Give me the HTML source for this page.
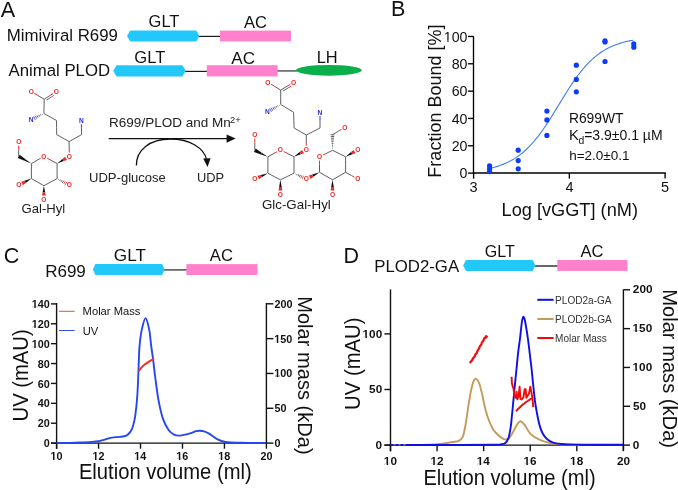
<!DOCTYPE html>
<html><head><meta charset="utf-8"><style>
html,body{margin:0;padding:0;background:#fff;width:678px;height:490px;overflow:hidden}
svg{display:block;will-change:transform}
text{font-family:"Liberation Sans",sans-serif}
</style></head><body>
<svg width="678" height="490" viewBox="0 0 678 490" font-family="Liberation Sans, sans-serif">
<rect width="678" height="490" fill="#fff"/>
<text x="0.64" y="16.50" font-size="21.60" fill="#111" >A</text>
<text x="6.65" y="40.90" font-size="16.84" fill="#111" >Mimiviral R699</text>
<text x="8.60" y="75.80" font-size="16.76" fill="#111" >Animal PLOD</text>
<text transform="translate(148.58,27.00) scale(1,0.95)" x="0" y="0" font-size="16.50" fill="#111" >GLT</text>
<text x="244.00" y="28.30" font-size="16.52" fill="#111" >AC</text>
<line x1="199.00" y1="36.40" x2="220.50" y2="36.40" stroke="#1a1a1a" stroke-width="1.2" />
<polygon points="127.00,36.00 130.24,30.60 196.26,30.60 199.50,36.00 196.26,41.40 130.24,41.40" fill="#22C8FA"/>
<rect x="220.00" y="30.60" width="71.00" height="10.80" fill="#FF80CC"/>
<text transform="translate(134.37,63.40) scale(1,0.95)" x="0" y="0" font-size="16.56" fill="#111" >GLT</text>
<text x="231.30" y="63.60" font-size="17.11" fill="#111" >AC</text>
<text x="316.69" y="62.50" font-size="16.41" fill="#111" >LH</text>
<line x1="185.00" y1="71.40" x2="207.00" y2="71.40" stroke="#1a1a1a" stroke-width="1.2" />
<line x1="277.00" y1="70.90" x2="297.00" y2="70.90" stroke="#6a6a6a" stroke-width="1.7" />
<polygon points="113.20,70.80 116.56,65.20 182.44,65.20 185.80,70.80 182.44,76.40 116.56,76.40" fill="#22C8FA"/>
<rect x="206.80" y="65.20" width="70.80" height="11.20" fill="#FF80CC"/>
<ellipse cx="328.9" cy="70.3" rx="32.9" ry="5.4" fill="#0AAF4B"/>
<line x1="44.20" y1="99.20" x2="37.70" y2="95.35" stroke="#606060" stroke-width="1.0"/>
<line x1="37.70" y1="95.35" x2="34.47" y2="93.44" stroke="#F02828" stroke-width="1.0"/>
<line x1="44.20" y1="99.20" x2="50.20" y2="95.35" stroke="#606060" stroke-width="1.0"/>
<line x1="50.20" y1="95.35" x2="53.00" y2="93.55" stroke="#F02828" stroke-width="1.0"/>
<line x1="46.54" y1="100.07" x2="51.28" y2="97.03" stroke="#606060" stroke-width="1.0"/>
<line x1="51.28" y1="97.03" x2="53.66" y2="95.51" stroke="#F02828" stroke-width="1.0"/>
<line x1="44.20" y1="99.20" x2="44.05" y2="106.30" stroke="#606060" stroke-width="1.0"/>
<line x1="44.05" y1="106.30" x2="43.90" y2="113.40" stroke="#606060" stroke-width="1.0"/>
<line x1="42.19" y1="113.90" x2="42.47" y2="114.47" stroke="#333" stroke-width="0.8"/>
<line x1="40.48" y1="114.40" x2="41.05" y2="115.53" stroke="#333" stroke-width="0.8"/>
<line x1="38.77" y1="114.90" x2="39.62" y2="116.60" stroke="#333" stroke-width="0.8"/>
<line x1="37.07" y1="115.40" x2="38.20" y2="117.67" stroke="#333" stroke-width="0.8"/>
<line x1="35.36" y1="115.90" x2="36.77" y2="118.73" stroke="#2828E8" stroke-width="0.8"/>
<line x1="33.65" y1="116.40" x2="35.35" y2="119.80" stroke="#2828E8" stroke-width="0.8"/>
<line x1="43.90" y1="113.40" x2="50.20" y2="116.95" stroke="#606060" stroke-width="1.0"/>
<line x1="50.20" y1="116.95" x2="56.50" y2="120.50" stroke="#606060" stroke-width="1.0"/>
<line x1="56.50" y1="120.50" x2="56.60" y2="127.55" stroke="#606060" stroke-width="1.0"/>
<line x1="56.60" y1="127.55" x2="56.70" y2="134.60" stroke="#606060" stroke-width="1.0"/>
<line x1="56.70" y1="134.60" x2="62.90" y2="138.10" stroke="#606060" stroke-width="1.0"/>
<line x1="62.90" y1="138.10" x2="69.10" y2="141.60" stroke="#606060" stroke-width="1.0"/>
<line x1="69.10" y1="141.60" x2="75.35" y2="138.10" stroke="#606060" stroke-width="1.0"/>
<line x1="75.35" y1="138.10" x2="81.60" y2="134.60" stroke="#606060" stroke-width="1.0"/>
<line x1="81.60" y1="134.60" x2="81.45" y2="127.55" stroke="#606060" stroke-width="1.0"/>
<line x1="81.45" y1="127.55" x2="81.38" y2="124.30" stroke="#2828E8" stroke-width="1.0"/>
<line x1="69.10" y1="141.60" x2="69.20" y2="149.00" stroke="#606060" stroke-width="1.0"/>
<line x1="69.20" y1="149.00" x2="69.25" y2="152.60" stroke="#F02828" stroke-width="1.0"/>
<polygon points="57.10,163.60 63.86,161.12 62.54,158.88" fill="#111"/>
<polygon points="63.86,161.12 66.99,159.97 65.06,156.70 62.54,158.88" fill="#F02828"/>
<line x1="57.10" y1="163.60" x2="50.50" y2="160.00" stroke="#606060" stroke-width="1.0"/>
<line x1="50.50" y1="160.00" x2="47.24" y2="158.22" stroke="#F02828" stroke-width="1.0"/>
<line x1="40.61" y1="158.30" x2="37.65" y2="160.00" stroke="#F02828" stroke-width="1.0"/>
<line x1="37.65" y1="160.00" x2="31.40" y2="163.60" stroke="#606060" stroke-width="1.0"/>
<polygon points="31.40,163.60 25.52,159.17 24.58,160.83" fill="#111"/>
<polygon points="25.52,159.17 19.64,154.75 17.76,158.05 24.58,160.83" fill="#111"/>
<line x1="18.70" y1="156.40" x2="18.70" y2="149.25" stroke="#606060" stroke-width="1.0"/>
<line x1="18.70" y1="149.25" x2="18.70" y2="145.90" stroke="#F02828" stroke-width="1.0"/>
<line x1="31.40" y1="163.60" x2="31.40" y2="171.10" stroke="#606060" stroke-width="1.0"/>
<line x1="31.40" y1="171.10" x2="31.40" y2="178.60" stroke="#606060" stroke-width="1.0"/>
<polygon points="31.40,178.60 24.45,180.75 25.65,183.05" fill="#111"/>
<polygon points="24.45,180.75 21.20,181.76 22.95,185.13 25.65,183.05" fill="#F02828"/>
<line x1="31.40" y1="178.60" x2="37.65" y2="182.15" stroke="#606060" stroke-width="1.0"/>
<line x1="37.65" y1="182.15" x2="43.90" y2="185.70" stroke="#606060" stroke-width="1.0"/>
<polygon points="43.90,185.70 42.59,192.55 45.21,192.55" fill="#111"/>
<polygon points="42.59,192.55 42.00,195.60 45.80,195.60 45.21,192.55" fill="#F02828"/>
<line x1="43.90" y1="185.70" x2="50.50" y2="182.15" stroke="#606060" stroke-width="1.0"/>
<line x1="50.50" y1="182.15" x2="57.10" y2="178.60" stroke="#606060" stroke-width="1.0"/>
<line x1="58.43" y1="179.68" x2="58.73" y2="179.12" stroke="#333" stroke-width="0.8"/>
<line x1="59.75" y1="180.75" x2="60.35" y2="179.64" stroke="#333" stroke-width="0.8"/>
<line x1="61.08" y1="181.83" x2="61.98" y2="180.16" stroke="#333" stroke-width="0.8"/>
<line x1="62.40" y1="182.91" x2="63.61" y2="180.68" stroke="#333" stroke-width="0.8"/>
<line x1="63.73" y1="183.99" x2="65.23" y2="181.20" stroke="#F02828" stroke-width="0.8"/>
<line x1="65.05" y1="185.06" x2="66.86" y2="181.72" stroke="#F02828" stroke-width="0.8"/>
<line x1="57.10" y1="178.60" x2="57.10" y2="171.10" stroke="#606060" stroke-width="1.0"/>
<line x1="57.10" y1="171.10" x2="57.10" y2="163.60" stroke="#606060" stroke-width="1.0"/>
<text x="31.20" y="93.78" font-size="6.6" font-weight="bold" text-anchor="middle" fill="#F02828">O</text>
<text x="56.20" y="93.78" font-size="6.6" font-weight="bold" text-anchor="middle" fill="#F02828">O</text>
<text x="31.10" y="122.08" font-size="6.6" font-weight="bold" text-anchor="middle" fill="#2828E8">N</text>
<text x="81.30" y="122.78" font-size="6.6" font-weight="bold" text-anchor="middle" fill="#2828E8">N</text>
<text x="69.30" y="158.68" font-size="6.6" font-weight="bold" text-anchor="middle" fill="#F02828">O</text>
<text x="43.90" y="158.68" font-size="6.6" font-weight="bold" text-anchor="middle" fill="#F02828">O</text>
<text x="18.70" y="144.38" font-size="6.6" font-weight="bold" text-anchor="middle" fill="#F02828">O</text>
<text x="18.70" y="187.48" font-size="6.6" font-weight="bold" text-anchor="middle" fill="#F02828">O</text>
<text x="43.90" y="201.68" font-size="6.6" font-weight="bold" text-anchor="middle" fill="#F02828">O</text>
<text x="69.30" y="187.48" font-size="6.6" font-weight="bold" text-anchor="middle" fill="#F02828">O</text>
<text x="21.54" y="213.40" font-size="13.13" fill="#1a1a1a" >Gal-Hyl</text>
<line x1="280.70" y1="90.10" x2="274.30" y2="86.20" stroke="#606060" stroke-width="1.0"/>
<line x1="274.30" y1="86.20" x2="271.14" y2="84.28" stroke="#F02828" stroke-width="1.0"/>
<line x1="280.70" y1="90.10" x2="287.15" y2="86.20" stroke="#606060" stroke-width="1.0"/>
<line x1="287.15" y1="86.20" x2="290.35" y2="84.27" stroke="#F02828" stroke-width="1.0"/>
<line x1="283.02" y1="91.04" x2="288.18" y2="87.91" stroke="#606060" stroke-width="1.0"/>
<line x1="288.18" y1="87.91" x2="290.96" y2="86.24" stroke="#F02828" stroke-width="1.0"/>
<line x1="280.70" y1="90.10" x2="280.70" y2="97.25" stroke="#606060" stroke-width="1.0"/>
<line x1="280.70" y1="97.25" x2="280.70" y2="104.40" stroke="#606060" stroke-width="1.0"/>
<line x1="279.12" y1="104.98" x2="279.39" y2="105.45" stroke="#333" stroke-width="0.8"/>
<line x1="277.55" y1="105.56" x2="278.08" y2="106.51" stroke="#333" stroke-width="0.8"/>
<line x1="275.97" y1="106.15" x2="276.78" y2="107.56" stroke="#333" stroke-width="0.8"/>
<line x1="274.40" y1="106.73" x2="275.47" y2="108.62" stroke="#333" stroke-width="0.8"/>
<line x1="272.82" y1="107.31" x2="274.16" y2="109.67" stroke="#2828E8" stroke-width="0.8"/>
<line x1="271.24" y1="107.89" x2="272.85" y2="110.72" stroke="#2828E8" stroke-width="0.8"/>
<line x1="269.67" y1="108.47" x2="271.54" y2="111.78" stroke="#2828E8" stroke-width="0.8"/>
<line x1="280.70" y1="104.40" x2="287.15" y2="108.35" stroke="#606060" stroke-width="1.0"/>
<line x1="287.15" y1="108.35" x2="293.60" y2="112.30" stroke="#606060" stroke-width="1.0"/>
<line x1="293.60" y1="112.30" x2="293.85" y2="120.15" stroke="#606060" stroke-width="1.0"/>
<line x1="293.85" y1="120.15" x2="294.10" y2="128.00" stroke="#606060" stroke-width="1.0"/>
<line x1="294.10" y1="128.00" x2="300.20" y2="131.50" stroke="#606060" stroke-width="1.0"/>
<line x1="300.20" y1="131.50" x2="306.30" y2="135.00" stroke="#606060" stroke-width="1.0"/>
<line x1="306.30" y1="135.00" x2="313.15" y2="131.50" stroke="#606060" stroke-width="1.0"/>
<line x1="313.15" y1="131.50" x2="320.00" y2="128.00" stroke="#606060" stroke-width="1.0"/>
<line x1="320.00" y1="128.00" x2="320.00" y2="120.15" stroke="#606060" stroke-width="1.0"/>
<line x1="320.00" y1="120.15" x2="320.00" y2="116.10" stroke="#2828E8" stroke-width="1.0"/>
<line x1="306.30" y1="135.00" x2="306.30" y2="142.30" stroke="#606060" stroke-width="1.0"/>
<line x1="306.30" y1="142.30" x2="306.30" y2="145.80" stroke="#F02828" stroke-width="1.0"/>
<polygon points="294.00,156.80 300.80,154.32 299.50,152.08" fill="#111"/>
<polygon points="300.80,154.32 303.98,153.16 302.06,149.88 299.50,152.08" fill="#F02828"/>
<line x1="294.00" y1="156.80" x2="287.20" y2="153.30" stroke="#606060" stroke-width="1.0"/>
<line x1="287.20" y1="153.30" x2="283.78" y2="151.54" stroke="#F02828" stroke-width="1.0"/>
<line x1="277.08" y1="151.66" x2="274.15" y2="153.30" stroke="#F02828" stroke-width="1.0"/>
<line x1="274.15" y1="153.30" x2="267.90" y2="156.80" stroke="#606060" stroke-width="1.0"/>
<polygon points="267.90,156.80 261.77,152.70 260.93,154.40" fill="#111"/>
<polygon points="261.77,152.70 255.64,148.60 253.96,152.00 260.93,154.40" fill="#111"/>
<line x1="254.80" y1="150.30" x2="254.80" y2="142.55" stroke="#606060" stroke-width="1.0"/>
<line x1="254.80" y1="142.55" x2="254.80" y2="138.60" stroke="#F02828" stroke-width="1.0"/>
<line x1="267.90" y1="156.80" x2="267.90" y2="165.00" stroke="#606060" stroke-width="1.0"/>
<line x1="267.90" y1="165.00" x2="267.90" y2="173.20" stroke="#606060" stroke-width="1.0"/>
<polygon points="267.90,173.20 260.83,174.92 261.87,177.28" fill="#111"/>
<polygon points="260.83,174.92 257.51,175.72 259.04,179.20 261.87,177.28" fill="#F02828"/>
<line x1="267.90" y1="173.20" x2="274.15" y2="176.50" stroke="#606060" stroke-width="1.0"/>
<line x1="274.15" y1="176.50" x2="280.40" y2="179.80" stroke="#606060" stroke-width="1.0"/>
<polygon points="280.40,179.80 279.12,187.10 281.68,187.10" fill="#111"/>
<polygon points="279.12,187.10 278.50,190.60 282.30,190.60 281.68,187.10" fill="#F02828"/>
<line x1="280.40" y1="179.80" x2="287.20" y2="176.50" stroke="#606060" stroke-width="1.0"/>
<line x1="287.20" y1="176.50" x2="294.00" y2="173.20" stroke="#606060" stroke-width="1.0"/>
<line x1="295.34" y1="174.18" x2="295.61" y2="173.61" stroke="#333" stroke-width="0.8"/>
<line x1="296.68" y1="175.17" x2="297.22" y2="174.02" stroke="#333" stroke-width="0.8"/>
<line x1="298.03" y1="176.15" x2="298.84" y2="174.43" stroke="#333" stroke-width="0.8"/>
<line x1="299.37" y1="177.13" x2="300.45" y2="174.84" stroke="#333" stroke-width="0.8"/>
<line x1="300.71" y1="178.11" x2="302.06" y2="175.25" stroke="#F02828" stroke-width="0.8"/>
<line x1="302.05" y1="179.10" x2="303.67" y2="175.66" stroke="#F02828" stroke-width="0.8"/>
<line x1="294.00" y1="173.20" x2="294.00" y2="165.00" stroke="#606060" stroke-width="1.0"/>
<line x1="294.00" y1="165.00" x2="294.00" y2="156.80" stroke="#606060" stroke-width="1.0"/>
<polygon points="319.50,172.30 312.32,174.51 313.48,176.79" fill="#111"/>
<polygon points="312.32,174.51 308.83,175.59 310.55,178.97 313.48,176.79" fill="#F02828"/>
<line x1="319.50" y1="172.30" x2="319.50" y2="164.55" stroke="#606060" stroke-width="1.0"/>
<line x1="319.50" y1="164.55" x2="319.50" y2="160.60" stroke="#F02828" stroke-width="1.0"/>
<line x1="322.90" y1="155.10" x2="326.00" y2="153.55" stroke="#F02828" stroke-width="1.0"/>
<line x1="326.00" y1="153.55" x2="332.50" y2="150.30" stroke="#606060" stroke-width="1.0"/>
<line x1="332.71" y1="148.58" x2="332.29" y2="148.58" stroke="#333" stroke-width="0.8"/>
<line x1="332.92" y1="146.86" x2="332.08" y2="146.86" stroke="#333" stroke-width="0.8"/>
<line x1="333.13" y1="145.13" x2="331.87" y2="145.13" stroke="#333" stroke-width="0.8"/>
<line x1="333.34" y1="143.41" x2="331.66" y2="143.41" stroke="#333" stroke-width="0.8"/>
<line x1="333.56" y1="141.69" x2="331.44" y2="141.69" stroke="#333" stroke-width="0.8"/>
<line x1="333.77" y1="139.97" x2="331.23" y2="139.97" stroke="#333" stroke-width="0.8"/>
<line x1="333.98" y1="138.24" x2="331.02" y2="138.24" stroke="#333" stroke-width="0.8"/>
<line x1="334.19" y1="136.52" x2="330.81" y2="136.52" stroke="#333" stroke-width="0.8"/>
<line x1="334.40" y1="134.80" x2="330.60" y2="134.80" stroke="#333" stroke-width="0.8"/>
<line x1="332.50" y1="134.80" x2="338.65" y2="131.05" stroke="#606060" stroke-width="1.0"/>
<line x1="338.65" y1="131.05" x2="341.56" y2="129.28" stroke="#F02828" stroke-width="1.0"/>
<line x1="332.50" y1="150.30" x2="339.05" y2="153.55" stroke="#606060" stroke-width="1.0"/>
<line x1="339.05" y1="153.55" x2="345.60" y2="156.80" stroke="#606060" stroke-width="1.0"/>
<polygon points="345.60,156.80 352.36,154.32 351.04,152.08" fill="#111"/>
<polygon points="352.36,154.32 355.49,153.17 353.56,149.90 351.04,152.08" fill="#F02828"/>
<line x1="345.60" y1="156.80" x2="345.60" y2="164.55" stroke="#606060" stroke-width="1.0"/>
<line x1="345.60" y1="164.55" x2="345.60" y2="172.30" stroke="#606060" stroke-width="1.0"/>
<line x1="345.60" y1="172.30" x2="351.70" y2="175.65" stroke="#606060" stroke-width="1.0"/>
<line x1="351.70" y1="175.65" x2="354.47" y2="177.17" stroke="#F02828" stroke-width="1.0"/>
<line x1="345.60" y1="172.30" x2="339.05" y2="176.05" stroke="#606060" stroke-width="1.0"/>
<line x1="339.05" y1="176.05" x2="332.50" y2="179.80" stroke="#606060" stroke-width="1.0"/>
<polygon points="332.50,179.80 331.22,187.10 333.78,187.10" fill="#111"/>
<polygon points="331.22,187.10 330.60,190.60 334.40,190.60 333.78,187.10" fill="#F02828"/>
<line x1="332.50" y1="179.80" x2="326.00" y2="176.05" stroke="#606060" stroke-width="1.0"/>
<line x1="326.00" y1="176.05" x2="319.50" y2="172.30" stroke="#606060" stroke-width="1.0"/>
<text x="267.90" y="84.58" font-size="6.6" font-weight="bold" text-anchor="middle" fill="#F02828">O</text>
<text x="293.60" y="84.58" font-size="6.6" font-weight="bold" text-anchor="middle" fill="#F02828">O</text>
<text x="267.30" y="114.28" font-size="6.6" font-weight="bold" text-anchor="middle" fill="#2828E8">N</text>
<text x="320.00" y="114.58" font-size="6.6" font-weight="bold" text-anchor="middle" fill="#2828E8">N</text>
<text x="306.30" y="151.88" font-size="6.6" font-weight="bold" text-anchor="middle" fill="#F02828">O</text>
<text x="280.40" y="152.08" font-size="6.6" font-weight="bold" text-anchor="middle" fill="#F02828">O</text>
<text x="254.80" y="137.08" font-size="6.6" font-weight="bold" text-anchor="middle" fill="#F02828">O</text>
<text x="254.80" y="181.28" font-size="6.6" font-weight="bold" text-anchor="middle" fill="#F02828">O</text>
<text x="280.40" y="196.68" font-size="6.6" font-weight="bold" text-anchor="middle" fill="#F02828">O</text>
<text x="306.30" y="181.28" font-size="6.6" font-weight="bold" text-anchor="middle" fill="#F02828">O</text>
<text x="319.50" y="159.08" font-size="6.6" font-weight="bold" text-anchor="middle" fill="#F02828">O</text>
<text x="344.80" y="129.58" font-size="6.6" font-weight="bold" text-anchor="middle" fill="#F02828">O</text>
<text x="357.80" y="151.88" font-size="6.6" font-weight="bold" text-anchor="middle" fill="#F02828">O</text>
<text x="357.80" y="181.28" font-size="6.6" font-weight="bold" text-anchor="middle" fill="#F02828">O</text>
<text x="332.50" y="196.68" font-size="6.6" font-weight="bold" text-anchor="middle" fill="#F02828">O</text>
<text x="261.93" y="208.50" font-size="13.33" fill="#1a1a1a" >Glc-Gal-Hyl</text>
<text x="109.12" y="126.60" font-size="13.51" fill="#222" >R699/PLOD and Mn</text>
<text x="230.03" y="122.90" font-size="9.33" fill="#222" >2+</text>
<line x1="108.70" y1="138.60" x2="228.00" y2="138.60" stroke="#111" stroke-width="1.3" />
<polygon points="235.6,138.6 226.6,134.5 226.6,142.7" fill="#111"/>
<path d="M136.4,165.5 C136,150 150,139 170.3,139 C190,139 204,148 206.8,160" fill="none" stroke="#111" stroke-width="1.3"/>
<polygon points="207.5,167 203.2,158.6 210.6,158.2" fill="#111"/>
<text x="89.02" y="181.50" font-size="13.05" fill="#222" >UDP-glucose</text>
<text x="196.94" y="181.50" font-size="12.85" fill="#222" >UDP</text>
<text x="390.88" y="15.60" font-size="21.50" fill="#111" >B</text>
<line x1="473.50" y1="36.20" x2="473.50" y2="173.60" stroke="#000" stroke-width="1.35" />
<line x1="472.90" y1="173.00" x2="665.80" y2="173.00" stroke="#000" stroke-width="1.35" />
<line x1="467.90" y1="173.10" x2="473.50" y2="173.10" stroke="#000" stroke-width="1.35" />
<text x="459.52" y="178.17" font-size="14.20" fill="#111" >0</text>
<line x1="467.90" y1="145.77" x2="473.50" y2="145.77" stroke="#000" stroke-width="1.35" />
<text x="451.63" y="150.84" font-size="14.20" fill="#111" >20</text>
<line x1="467.90" y1="118.44" x2="473.50" y2="118.44" stroke="#000" stroke-width="1.35" />
<text x="451.63" y="123.51" font-size="14.20" fill="#111" >40</text>
<line x1="467.90" y1="91.12" x2="473.50" y2="91.12" stroke="#000" stroke-width="1.35" />
<text x="451.63" y="96.19" font-size="14.20" fill="#111" >60</text>
<line x1="467.90" y1="63.79" x2="473.50" y2="63.79" stroke="#000" stroke-width="1.35" />
<text x="451.63" y="68.86" font-size="14.20" fill="#111" >80</text>
<line x1="467.90" y1="36.46" x2="473.50" y2="36.46" stroke="#000" stroke-width="1.35" />
<text x="443.75" y="41.53" font-size="14.20" fill="#111" >100</text>
<rect x="444.52" y="40.39" width="2.84" height="2.14" fill="#fff"/>
<rect x="448.55" y="40.39" width="2.69" height="2.14" fill="#fff"/>
<line x1="473.60" y1="173.00" x2="473.60" y2="178.60" stroke="#000" stroke-width="1.35" />
<text x="469.58" y="191.80" font-size="14.50" fill="#111" >3</text>
<line x1="569.35" y1="173.00" x2="569.35" y2="178.60" stroke="#000" stroke-width="1.35" />
<text x="565.40" y="191.80" font-size="14.50" fill="#111" >4</text>
<line x1="665.10" y1="173.00" x2="665.10" y2="178.60" stroke="#000" stroke-width="1.35" />
<text x="661.08" y="191.80" font-size="14.50" fill="#111" >5</text>
<path d="M489.59,168.38 L491.51,167.94 L493.42,167.46 L495.34,166.94 L497.25,166.38 L499.17,165.76 L501.08,165.10 L503.00,164.37 L504.91,163.59 L506.83,162.74 L508.74,161.82 L510.66,160.83 L512.57,159.77 L514.49,158.62 L516.40,157.38 L518.32,156.05 L520.23,154.63 L522.15,153.11 L524.06,151.48 L525.98,149.75 L527.89,147.92 L529.81,145.97 L531.72,143.91 L533.64,141.74 L535.55,139.46 L537.47,137.07 L539.38,134.58 L541.30,131.98 L543.21,129.28 L545.13,126.50 L547.04,123.63 L548.96,120.69 L550.87,117.68 L552.79,114.62 L554.70,111.52 L556.62,108.39 L558.53,105.25 L560.45,102.11 L562.36,98.97 L564.28,95.86 L566.19,92.79 L568.11,89.77 L570.02,86.81 L571.94,83.92 L573.85,81.10 L575.77,78.38 L577.68,75.75 L579.60,73.23 L581.51,70.80 L583.43,68.49 L585.34,66.29 L587.26,64.20 L589.17,62.22 L591.09,60.35 L593.00,58.58 L594.92,56.93 L596.83,55.38 L598.75,53.93 L600.66,52.57 L602.58,51.31 L604.49,50.13 L606.41,49.04 L608.32,48.03 L610.24,47.09 L612.15,46.22 L614.07,45.42 L615.98,44.68 L617.90,43.99 L619.81,43.36 L621.73,42.78 L623.64,42.25 L625.56,41.76 L627.47,41.31 L629.39,40.90 L631.30,40.52 L633.22,40.17" fill="none" stroke="#3C7CF0" stroke-width="1.1"/>
<circle cx="489.6" cy="165.8" r="2.6" fill="#0A3CFA"/>
<circle cx="489.6" cy="168.8" r="2.6" fill="#0A3CFA"/>
<circle cx="489.6" cy="171.6" r="2.6" fill="#0A3CFA"/>
<circle cx="518.2" cy="150.2" r="2.6" fill="#0A3CFA"/>
<circle cx="518.2" cy="160.6" r="2.6" fill="#0A3CFA"/>
<circle cx="518.2" cy="168.8" r="2.6" fill="#0A3CFA"/>
<circle cx="546.9" cy="111.1" r="2.6" fill="#0A3CFA"/>
<circle cx="546.9" cy="119.9" r="2.6" fill="#0A3CFA"/>
<circle cx="546.9" cy="135.4" r="2.6" fill="#0A3CFA"/>
<circle cx="576.3" cy="65.2" r="2.6" fill="#0A3CFA"/>
<circle cx="576.3" cy="79.4" r="2.6" fill="#0A3CFA"/>
<circle cx="576.3" cy="91.8" r="2.6" fill="#0A3CFA"/>
<circle cx="605.0" cy="40.8" r="2.6" fill="#0A3CFA"/>
<circle cx="605.0" cy="42.0" r="2.6" fill="#0A3CFA"/>
<circle cx="605.0" cy="61.5" r="2.6" fill="#0A3CFA"/>
<circle cx="633.8" cy="43.9" r="2.6" fill="#0A3CFA"/>
<circle cx="633.8" cy="47.2" r="2.6" fill="#0A3CFA"/>
<text transform="translate(568.89,123.00) scale(1,1.07)" x="0" y="0" font-size="13.86" fill="#111" >R699WT</text>
<text x="568.92" y="139.90" font-size="14.78" fill="#111" >K</text>
<text x="578.58" y="143.60" font-size="10.40" fill="#111" >d</text>
<text x="584.20" y="139.90" font-size="14.00" fill="#111" >=3.9±0.1 µM</text>
<text x="569.15" y="159.50" font-size="13.52" fill="#111" >h=2.0±0.1</text>
<text transform="translate(440.50,177.64) rotate(-90) scale(1,1.0)" x="0" y="0" font-size="18.02" fill="#111">Fraction Bound [%]</text>
<text x="501.54" y="215.80" font-size="18.19" fill="#111" >Log [vGGT] (nM)</text>
<text x="3.72" y="262.60" font-size="21.50" fill="#111" >C</text>
<text x="45.14" y="277.20" font-size="17.04" fill="#111" >R699</text>
<line x1="164.00" y1="269.90" x2="187.00" y2="269.90" stroke="#5a5a5a" stroke-width="1.6" />
<polygon points="92.90,269.55 95.41,264.10 162.09,264.10 164.60,269.55 162.09,275.00 95.41,275.00" fill="#22C8FA"/>
<rect x="186.40" y="264.10" width="71.10" height="10.90" fill="#FF80CC"/>
<text x="113.84" y="261.20" font-size="17.11" fill="#111" >GLT</text>
<text x="209.80" y="261.20" font-size="16.67" fill="#111" >AC</text>
<line x1="56.60" y1="303.00" x2="56.60" y2="448.90" stroke="#111" stroke-width="1.4" />
<line x1="51.00" y1="443.10" x2="266.40" y2="443.10" stroke="#111" stroke-width="1.4" />
<line x1="266.40" y1="303.00" x2="266.40" y2="443.10" stroke="#111" stroke-width="1.4" />
<line x1="51.00" y1="443.10" x2="56.60" y2="443.10" stroke="#111" stroke-width="1.4" />
<text x="43.74" y="447.20" font-size="10.80" font-weight="bold" fill="#111" textLength="6.01" lengthAdjust="spacingAndGlyphs" >0</text>
<line x1="51.00" y1="423.21" x2="56.60" y2="423.21" stroke="#111" stroke-width="1.4" />
<text x="37.74" y="427.31" font-size="10.80" font-weight="bold" fill="#111" textLength="12.01" lengthAdjust="spacingAndGlyphs" >20</text>
<line x1="51.00" y1="403.33" x2="56.60" y2="403.33" stroke="#111" stroke-width="1.4" />
<text x="37.74" y="407.43" font-size="10.80" font-weight="bold" fill="#111" textLength="12.01" lengthAdjust="spacingAndGlyphs" >40</text>
<line x1="51.00" y1="383.44" x2="56.60" y2="383.44" stroke="#111" stroke-width="1.4" />
<text x="37.74" y="387.54" font-size="10.80" font-weight="bold" fill="#111" textLength="12.01" lengthAdjust="spacingAndGlyphs" >60</text>
<line x1="51.00" y1="363.56" x2="56.60" y2="363.56" stroke="#111" stroke-width="1.4" />
<text x="37.74" y="367.66" font-size="10.80" font-weight="bold" fill="#111" textLength="12.01" lengthAdjust="spacingAndGlyphs" >80</text>
<line x1="51.00" y1="343.67" x2="56.60" y2="343.67" stroke="#111" stroke-width="1.4" />
<text x="31.75" y="347.77" font-size="10.80" font-weight="bold" fill="#111" textLength="18.02" lengthAdjust="spacingAndGlyphs" >100</text>
<rect x="32.22" y="346.61" width="2.07" height="2.16" fill="#fff"/>
<rect x="35.73" y="346.61" width="1.92" height="2.16" fill="#fff"/>
<line x1="51.00" y1="323.79" x2="56.60" y2="323.79" stroke="#111" stroke-width="1.4" />
<text x="31.75" y="327.89" font-size="10.80" font-weight="bold" fill="#111" textLength="18.02" lengthAdjust="spacingAndGlyphs" >120</text>
<rect x="32.22" y="326.73" width="2.07" height="2.16" fill="#fff"/>
<rect x="35.73" y="326.73" width="1.92" height="2.16" fill="#fff"/>
<line x1="51.00" y1="303.90" x2="56.60" y2="303.90" stroke="#111" stroke-width="1.4" />
<text x="31.75" y="308.00" font-size="10.80" font-weight="bold" fill="#111" textLength="18.02" lengthAdjust="spacingAndGlyphs" >140</text>
<rect x="32.22" y="306.84" width="2.07" height="2.16" fill="#fff"/>
<rect x="35.73" y="306.84" width="1.92" height="2.16" fill="#fff"/>
<line x1="266.40" y1="443.10" x2="273.40" y2="443.10" stroke="#111" stroke-width="1.4" />
<text x="274.47" y="447.10" font-size="10.80" font-weight="bold" fill="#111" textLength="6.01" lengthAdjust="spacingAndGlyphs" >0</text>
<line x1="266.40" y1="408.28" x2="273.40" y2="408.28" stroke="#111" stroke-width="1.4" />
<text x="274.58" y="412.28" font-size="10.80" font-weight="bold" fill="#111" textLength="12.01" lengthAdjust="spacingAndGlyphs" >50</text>
<line x1="266.40" y1="373.45" x2="273.40" y2="373.45" stroke="#111" stroke-width="1.4" />
<text x="274.25" y="377.45" font-size="10.80" font-weight="bold" fill="#111" textLength="18.02" lengthAdjust="spacingAndGlyphs" >100</text>
<rect x="274.73" y="376.29" width="2.07" height="2.16" fill="#fff"/>
<rect x="278.23" y="376.29" width="1.92" height="2.16" fill="#fff"/>
<line x1="266.40" y1="338.62" x2="273.40" y2="338.62" stroke="#111" stroke-width="1.4" />
<text x="274.25" y="342.62" font-size="10.80" font-weight="bold" fill="#111" textLength="18.02" lengthAdjust="spacingAndGlyphs" >150</text>
<rect x="274.73" y="341.46" width="2.07" height="2.16" fill="#fff"/>
<rect x="278.23" y="341.46" width="1.92" height="2.16" fill="#fff"/>
<line x1="266.40" y1="303.80" x2="273.40" y2="303.80" stroke="#111" stroke-width="1.4" />
<text x="274.52" y="307.80" font-size="10.80" font-weight="bold" fill="#111" textLength="18.02" lengthAdjust="spacingAndGlyphs" >200</text>
<line x1="56.60" y1="443.10" x2="56.60" y2="448.70" stroke="#111" stroke-width="1.4" />
<text x="50.50" y="459.70" font-size="10.80" font-weight="bold" fill="#111" textLength="12.01" lengthAdjust="spacingAndGlyphs" >10</text>
<rect x="50.97" y="458.54" width="2.07" height="2.16" fill="#fff"/>
<rect x="54.48" y="458.54" width="1.92" height="2.16" fill="#fff"/>
<line x1="98.56" y1="443.10" x2="98.56" y2="448.70" stroke="#111" stroke-width="1.4" />
<text x="92.46" y="459.70" font-size="10.80" font-weight="bold" fill="#111" textLength="12.01" lengthAdjust="spacingAndGlyphs" >12</text>
<rect x="92.93" y="458.54" width="2.07" height="2.16" fill="#fff"/>
<rect x="96.44" y="458.54" width="1.92" height="2.16" fill="#fff"/>
<line x1="140.52" y1="443.10" x2="140.52" y2="448.70" stroke="#111" stroke-width="1.4" />
<text x="134.23" y="459.70" font-size="10.80" font-weight="bold" fill="#111" textLength="12.01" lengthAdjust="spacingAndGlyphs" >14</text>
<rect x="134.70" y="458.54" width="2.07" height="2.16" fill="#fff"/>
<rect x="138.21" y="458.54" width="1.92" height="2.16" fill="#fff"/>
<line x1="182.48" y1="443.10" x2="182.48" y2="448.70" stroke="#111" stroke-width="1.4" />
<text x="176.35" y="459.70" font-size="10.80" font-weight="bold" fill="#111" textLength="12.01" lengthAdjust="spacingAndGlyphs" >16</text>
<rect x="176.83" y="458.54" width="2.07" height="2.16" fill="#fff"/>
<rect x="180.33" y="458.54" width="1.92" height="2.16" fill="#fff"/>
<line x1="224.44" y1="443.10" x2="224.44" y2="448.70" stroke="#111" stroke-width="1.4" />
<text x="218.28" y="459.70" font-size="10.80" font-weight="bold" fill="#111" textLength="12.01" lengthAdjust="spacingAndGlyphs" >18</text>
<rect x="218.76" y="458.54" width="2.07" height="2.16" fill="#fff"/>
<rect x="222.27" y="458.54" width="1.92" height="2.16" fill="#fff"/>
<line x1="266.40" y1="443.10" x2="266.40" y2="448.70" stroke="#111" stroke-width="1.4" />
<text x="260.43" y="459.70" font-size="10.80" font-weight="bold" fill="#111" textLength="12.01" lengthAdjust="spacingAndGlyphs" >20</text>
<path d="M56.60,443.00 C58.83,442.98 65.68,443.00 70.00,442.90 C74.32,442.80 78.83,442.57 82.50,442.40 C86.17,442.23 89.33,442.10 92.00,441.90 C94.67,441.70 96.53,441.55 98.50,441.20 C100.47,440.85 101.58,440.40 103.80,439.80 C106.02,439.20 109.15,438.08 111.80,437.60 C114.45,437.12 117.27,437.23 119.70,436.90 C122.13,436.57 124.63,436.43 126.40,435.60 C128.17,434.77 129.22,433.42 130.30,431.90 C131.38,430.38 132.07,429.27 132.90,426.50 C133.73,423.73 134.57,420.43 135.30,415.30 C136.03,410.17 136.77,403.25 137.30,395.70 C137.83,388.15 138.13,378.17 138.50,370.00 C138.87,361.83 138.95,353.43 139.50,346.70 C140.05,339.97 140.78,334.35 141.80,329.60 C142.82,324.85 144.37,318.20 145.60,318.20 C146.83,318.20 148.25,324.85 149.20,329.60 C150.15,334.35 150.63,341.60 151.30,346.70 C151.97,351.80 152.52,354.88 153.20,360.20 C153.88,365.52 154.50,371.87 155.40,378.60 C156.30,385.33 157.35,393.93 158.60,400.60 C159.85,407.27 161.23,413.70 162.90,418.60 C164.57,423.50 166.75,427.33 168.60,430.00 C170.45,432.67 172.10,433.67 174.00,434.60 C175.90,435.53 177.33,435.80 180.00,435.60 C182.67,435.40 187.33,434.13 190.00,433.40 C192.67,432.67 194.33,431.63 196.00,431.20 C197.67,430.77 198.67,430.77 200.00,430.80 C201.33,430.83 202.57,430.97 204.00,431.40 C205.43,431.83 206.42,432.12 208.60,433.40 C210.78,434.68 214.25,437.67 217.10,439.10 C219.95,440.53 221.88,441.38 225.70,442.00 C229.52,442.62 233.28,442.63 240.00,442.80 C246.72,442.97 261.67,442.97 266.00,443.00" fill="none" stroke="#2846F0" stroke-width="1.9" stroke-linejoin="round"/>
<path d="M139.00,370.60 C139.50,370.00 141.00,368.05 142.00,367.00 C143.00,365.95 143.92,365.17 145.00,364.30 C146.08,363.43 147.50,362.47 148.50,361.80 C149.50,361.13 150.18,360.73 151.00,360.30 C151.82,359.87 153.00,359.38 153.40,359.20" fill="none" stroke="#EE3322" stroke-width="2" stroke-linecap="round"/>
<line x1="59.00" y1="311.30" x2="74.60" y2="311.30" stroke="#E05040" stroke-width="1" />
<line x1="59.00" y1="330.50" x2="74.60" y2="330.50" stroke="#3050E0" stroke-width="1" />
<text x="82.61" y="314.90" font-size="11.18" fill="#111" >Molar Mass</text>
<text x="82.66" y="334.80" font-size="11.19" fill="#111" >UV</text>
<text transform="translate(28.00,421.42) rotate(-90) scale(1,1.06)" x="0" y="0" font-size="20.23" fill="#111">UV (mAU)</text>
<text transform="translate(78.88,478.90) scale(1,1.05)" x="0" y="0" font-size="20.20" fill="#111" >Elution volume (ml)</text>
<text transform="translate(298.10,296.19) rotate(90) scale(1,1.045)" x="0" y="0" font-size="20.10" fill="#111">Molar mass (kDa)</text>
<text x="343.48" y="262.50" font-size="21.50" fill="#111" >D</text>
<text x="374.26" y="271.90" font-size="16.80" fill="#111" >PLOD2-GA</text>
<line x1="535.00" y1="266.00" x2="558.00" y2="266.00" stroke="#404040" stroke-width="1.6" />
<polygon points="463.20,265.45 465.92,260.00 532.67,260.00 535.40,265.45 532.67,270.90 465.92,270.90" fill="#22C8FA"/>
<rect x="557.30" y="260.00" width="70.10" height="10.90" fill="#FF80CC"/>
<text x="484.80" y="256.90" font-size="16.06" fill="#111" >GLT</text>
<text x="580.50" y="256.90" font-size="16.59" fill="#111" >AC</text>
<line x1="390.50" y1="289.40" x2="390.50" y2="451.30" stroke="#111" stroke-width="1.4" />
<line x1="384.40" y1="445.10" x2="623.40" y2="445.10" stroke="#111" stroke-width="1.4" />
<line x1="623.40" y1="289.40" x2="623.40" y2="450.70" stroke="#111" stroke-width="1.4" />
<line x1="384.40" y1="445.10" x2="390.50" y2="445.10" stroke="#111" stroke-width="1.4" />
<text x="375.64" y="448.90" font-size="10.90" font-weight="bold" fill="#111" textLength="6.55" lengthAdjust="spacingAndGlyphs" >0</text>
<line x1="384.40" y1="389.50" x2="390.50" y2="389.50" stroke="#111" stroke-width="1.4" />
<text x="369.10" y="393.30" font-size="10.90" font-weight="bold" fill="#111" textLength="13.09" lengthAdjust="spacingAndGlyphs" >50</text>
<line x1="384.40" y1="333.90" x2="390.50" y2="333.90" stroke="#111" stroke-width="1.4" />
<text x="362.57" y="337.70" font-size="10.90" font-weight="bold" fill="#111" textLength="19.64" lengthAdjust="spacingAndGlyphs" >100</text>
<rect x="363.09" y="336.53" width="2.25" height="2.17" fill="#fff"/>
<rect x="366.91" y="336.53" width="2.10" height="2.17" fill="#fff"/>
<line x1="623.40" y1="445.10" x2="630.00" y2="445.10" stroke="#111" stroke-width="1.4" />
<text x="632.83" y="448.50" font-size="10.90" font-weight="bold" fill="#111" textLength="6.55" lengthAdjust="spacingAndGlyphs" >0</text>
<line x1="623.40" y1="406.28" x2="630.00" y2="406.28" stroke="#111" stroke-width="1.4" />
<text x="632.95" y="409.68" font-size="10.90" font-weight="bold" fill="#111" textLength="13.09" lengthAdjust="spacingAndGlyphs" >50</text>
<line x1="623.40" y1="367.45" x2="630.00" y2="367.45" stroke="#111" stroke-width="1.4" />
<text x="632.59" y="370.85" font-size="10.90" font-weight="bold" fill="#111" textLength="19.64" lengthAdjust="spacingAndGlyphs" >100</text>
<rect x="633.11" y="369.68" width="2.25" height="2.17" fill="#fff"/>
<rect x="636.93" y="369.68" width="2.10" height="2.17" fill="#fff"/>
<line x1="623.40" y1="328.62" x2="630.00" y2="328.62" stroke="#111" stroke-width="1.4" />
<text x="632.59" y="332.02" font-size="10.90" font-weight="bold" fill="#111" textLength="19.64" lengthAdjust="spacingAndGlyphs" >150</text>
<rect x="633.11" y="330.85" width="2.25" height="2.17" fill="#fff"/>
<rect x="636.93" y="330.85" width="2.10" height="2.17" fill="#fff"/>
<line x1="623.40" y1="289.80" x2="630.00" y2="289.80" stroke="#111" stroke-width="1.4" />
<text x="632.89" y="293.20" font-size="10.90" font-weight="bold" fill="#111" textLength="19.64" lengthAdjust="spacingAndGlyphs" >200</text>
<line x1="390.50" y1="445.10" x2="390.50" y2="451.20" stroke="#111" stroke-width="1.4" />
<text x="383.85" y="464.70" font-size="10.90" font-weight="bold" fill="#111" textLength="13.09" lengthAdjust="spacingAndGlyphs" >10</text>
<rect x="384.37" y="463.53" width="2.25" height="2.17" fill="#fff"/>
<rect x="388.19" y="463.53" width="2.10" height="2.17" fill="#fff"/>
<line x1="437.08" y1="445.10" x2="437.08" y2="451.20" stroke="#111" stroke-width="1.4" />
<text x="430.43" y="464.70" font-size="10.90" font-weight="bold" fill="#111" textLength="13.09" lengthAdjust="spacingAndGlyphs" >12</text>
<rect x="430.95" y="463.53" width="2.25" height="2.17" fill="#fff"/>
<rect x="434.77" y="463.53" width="2.10" height="2.17" fill="#fff"/>
<line x1="483.66" y1="445.10" x2="483.66" y2="451.20" stroke="#111" stroke-width="1.4" />
<text x="476.80" y="464.70" font-size="10.90" font-weight="bold" fill="#111" textLength="13.09" lengthAdjust="spacingAndGlyphs" >14</text>
<rect x="477.32" y="463.53" width="2.25" height="2.17" fill="#fff"/>
<rect x="481.14" y="463.53" width="2.10" height="2.17" fill="#fff"/>
<line x1="530.24" y1="445.10" x2="530.24" y2="451.20" stroke="#111" stroke-width="1.4" />
<text x="523.56" y="464.70" font-size="10.90" font-weight="bold" fill="#111" textLength="13.09" lengthAdjust="spacingAndGlyphs" >16</text>
<rect x="524.08" y="463.53" width="2.25" height="2.17" fill="#fff"/>
<rect x="527.90" y="463.53" width="2.10" height="2.17" fill="#fff"/>
<line x1="576.82" y1="445.10" x2="576.82" y2="451.20" stroke="#111" stroke-width="1.4" />
<text x="570.11" y="464.70" font-size="10.90" font-weight="bold" fill="#111" textLength="13.09" lengthAdjust="spacingAndGlyphs" >18</text>
<rect x="570.63" y="463.53" width="2.25" height="2.17" fill="#fff"/>
<rect x="574.45" y="463.53" width="2.10" height="2.17" fill="#fff"/>
<line x1="623.40" y1="445.10" x2="623.40" y2="451.20" stroke="#111" stroke-width="1.4" />
<text x="616.90" y="464.70" font-size="10.90" font-weight="bold" fill="#111" textLength="13.09" lengthAdjust="spacingAndGlyphs" >20</text>
<path d="M405.90,445.00 C408.25,444.98 415.30,444.98 420.00,444.90 C424.70,444.82 429.92,444.78 434.10,444.50 C438.28,444.22 442.03,443.62 445.10,443.20 C448.17,442.78 450.20,442.40 452.50,442.00 C454.80,441.60 457.22,441.60 458.90,440.80 C460.58,440.00 461.53,439.63 462.60,437.20 C463.67,434.77 464.38,431.10 465.30,426.20 C466.22,421.30 467.17,413.63 468.10,407.80 C469.03,401.97 469.98,395.65 470.90,391.20 C471.82,386.75 472.75,383.15 473.60,381.10 C474.45,379.05 475.08,378.58 476.00,378.90 C476.92,379.22 478.12,380.63 479.10,383.00 C480.08,385.37 480.98,389.28 481.90,393.10 C482.82,396.92 483.53,401.62 484.60,405.90 C485.67,410.18 486.92,414.97 488.30,418.80 C489.68,422.63 491.22,426.15 492.90,428.90 C494.58,431.65 496.57,433.58 498.40,435.30 C500.23,437.02 502.22,438.65 503.90,439.20 C505.58,439.75 507.07,439.63 508.50,438.60 C509.93,437.57 511.17,435.18 512.50,433.00 C513.83,430.82 515.22,427.45 516.50,425.50 C517.78,423.55 518.85,421.40 520.20,421.30 C521.55,421.20 522.88,422.82 524.60,424.90 C526.32,426.98 528.03,431.33 530.50,433.80 C532.97,436.27 535.95,438.13 539.40,439.70 C542.85,441.27 547.25,442.43 551.20,443.20 C555.15,443.97 558.30,444.03 563.10,444.30 C567.90,444.57 577.18,444.72 580.00,444.80" fill="none" stroke="#C49A5C" stroke-width="1.9" stroke-linejoin="round"/>
<path d="M406.00,445.00 C415.00,445.00 445.17,445.03 460.00,445.00 C474.83,444.97 488.17,444.92 495.00,444.80 C501.83,444.68 499.33,444.57 501.00,444.30 C502.67,444.03 503.78,444.15 505.00,443.20 C506.22,442.25 507.35,441.28 508.30,438.60 C509.25,435.92 510.08,431.03 510.70,427.10 C511.32,423.17 511.58,419.07 512.00,415.00 C512.42,410.93 512.73,407.53 513.20,402.70 C513.67,397.87 514.27,391.45 514.80,386.00 C515.33,380.55 515.83,375.67 516.40,370.00 C516.97,364.33 517.60,357.23 518.20,352.00 C518.80,346.77 519.45,343.10 520.00,338.60 C520.55,334.10 521.12,328.17 521.50,325.00 C521.88,321.83 522.00,320.97 522.30,319.60 C522.60,318.23 522.95,316.97 523.30,316.80 C523.65,316.63 524.02,317.40 524.40,318.60 C524.78,319.80 525.02,320.67 525.60,324.00 C526.18,327.33 527.20,333.60 527.90,338.60 C528.60,343.60 529.17,348.77 529.80,354.00 C530.43,359.23 531.12,364.67 531.70,370.00 C532.28,375.33 532.72,380.55 533.30,386.00 C533.88,391.45 534.50,397.70 535.20,402.70 C535.90,407.70 536.68,411.93 537.50,416.00 C538.32,420.07 539.18,424.10 540.10,427.10 C541.02,430.10 541.92,432.08 543.00,434.00 C544.08,435.92 545.43,437.40 546.60,438.60 C547.77,439.80 548.77,440.50 550.00,441.20 C551.23,441.90 552.00,442.33 554.00,442.80 C556.00,443.27 558.50,443.70 562.00,444.00 C565.50,444.30 564.83,444.47 575.00,444.60 C585.17,444.73 615.00,444.77 623.00,444.80" fill="none" stroke="#1010E4" stroke-width="1.9" stroke-linejoin="round"/>
<line x1="390.5" y1="445" x2="406" y2="445" stroke="#1010E4" stroke-width="1.9" stroke-dasharray="3 2"/>
<path d="M469.80,363.00 L471.20,361.30 L471.90,360.60 L473.20,358.00 L474.40,357.20 L475.40,354.40 L476.80,353.00 L477.60,350.40 L479.00,348.60 L479.80,346.40 L481.30,344.50 L482.00,342.20 L483.40,340.80 L484.00,338.60 L485.30,337.60 L486.00,336.20 L486.80,336.60 L485.80,338.20" fill="none" stroke="#F00A0A" stroke-width="2.2" stroke-linejoin="round"/>
<path d="M511.60,376.70 L511.90,383.10 L512.30,384.90 L513.60,389.10 L514.20,395.10 L515.70,397.70 L516.60,391.70 L517.30,399.40 L518.70,396.00 L519.60,386.60 L520.40,398.60 L521.70,399.40 L523.40,397.70 L524.70,389.10 L525.60,389.10 L526.40,397.70 L528.10,395.10 L529.00,393.40 L530.30,386.60 L531.60,393.40 L532.40,397.70 L533.30,407.10" fill="none" stroke="#F00A0A" stroke-width="1.9" stroke-linejoin="round"/>
<path d="M516.10,411.40 L517.50,409.50 L519.10,408.00 L520.80,406.50 L522.60,404.60 L524.30,403.50 L526.00,402.00 L527.70,401.00 L529.40,399.90 L531.00,398.80 L532.90,397.70" fill="none" stroke="#F00A0A" stroke-width="1.9" stroke-linejoin="round"/>
<line x1="537.30" y1="299.80" x2="553.60" y2="299.80" stroke="#1010E4" stroke-width="2.0" />
<line x1="537.30" y1="319.00" x2="553.60" y2="319.00" stroke="#C49A5C" stroke-width="2.0" />
<line x1="537.30" y1="338.00" x2="553.60" y2="338.00" stroke="#F00A0A" stroke-width="2.0" />
<text x="555.09" y="303.90" font-size="10.07" fill="#333" >PLOD2a-GA</text>
<text x="555.09" y="323.20" font-size="10.11" fill="#333" >PLOD2b-GA</text>
<text x="555.10" y="341.50" font-size="10.01" fill="#333" >Molar Mass</text>
<text transform="translate(360.30,409.92) rotate(-90) scale(1,1.08)" x="0" y="0" font-size="20.29" fill="#111">UV (mAU)</text>
<text transform="translate(423.39,485.10) scale(1,1.06)" x="0" y="0" font-size="20.14" fill="#111" >Elution volume (ml)</text>
<text transform="translate(662.60,289.19) rotate(90) scale(1,1.03)" x="0" y="0" font-size="20.15" fill="#111">Molar mass (kDa)</text>
</svg>
</body></html>
